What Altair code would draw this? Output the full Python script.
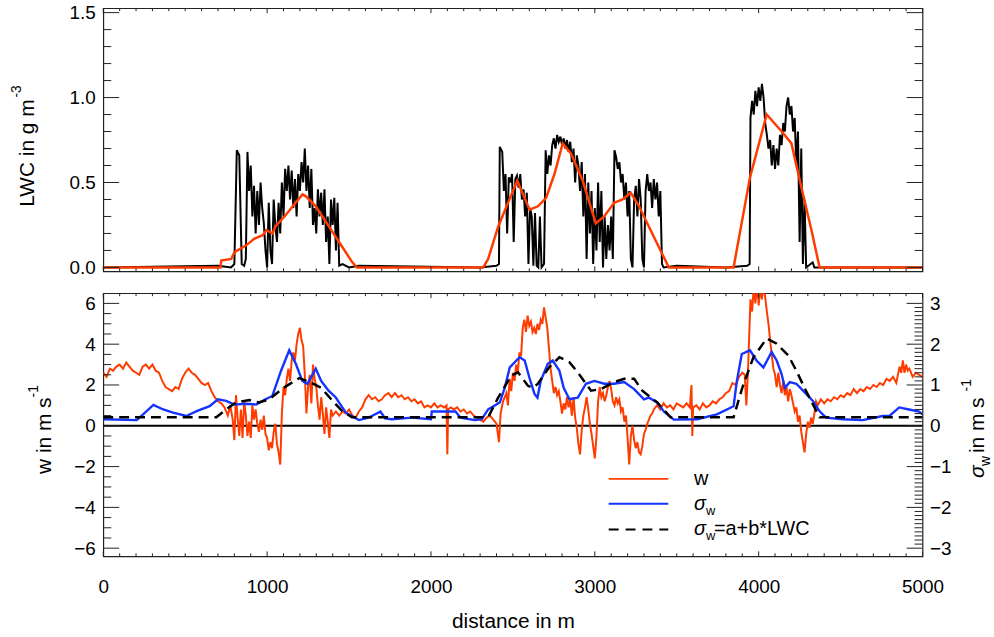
import altair as alt
import pandas as pd

# ---------------- data ----------------
# LWC (black, high resolution)
lwc_d = [0, 700, 780, 800, 815, 830, 845, 860, 870, 880, 890, 900, 910, 920, 930, 940, 950, 960, 970, 980,
         990, 1000, 1010, 1020, 1030, 1040, 1050, 1060, 1070, 1080, 1090, 1100, 1110, 1120, 1130, 1140, 1150,
         1160, 1170, 1180, 1190, 1200, 1210, 1220, 1230, 1240, 1250, 1260, 1270, 1280, 1290, 1300, 1310, 1320,
         1330, 1340, 1350, 1360, 1370, 1380, 1390, 1400, 1410, 1420, 1430, 1440, 1460, 1500, 1560,
         2300, 2400, 2415, 2420, 2435, 2445, 2455, 2465, 2475, 2485, 2495, 2505, 2515, 2525, 2535, 2545, 2555,
         2565, 2575, 2585, 2595, 2605, 2615, 2625, 2635, 2645, 2655, 2665, 2675, 2690, 2700, 2710, 2720, 2730,
         2740, 2750, 2760, 2770, 2780, 2790, 2800, 2810, 2820, 2830, 2840, 2850, 2860, 2870, 2880, 2890, 2900,
         2910, 2920, 2930, 2940, 2950, 2960, 2970, 2980, 2990, 3000, 3010, 3020, 3030, 3040, 3050, 3060, 3070,
         3080, 3090, 3100, 3110, 3120, 3130, 3140, 3150, 3160, 3170, 3180, 3190, 3200, 3210, 3220, 3230, 3240,
         3250, 3260, 3270, 3280, 3290, 3300, 3310, 3320, 3330, 3340, 3350, 3360, 3370, 3380, 3390, 3400, 3410,
         3420, 3500,
         3800, 3930, 3945, 3950, 3960, 3970, 3980, 3990, 4000, 4010, 4020, 4030, 4040, 4050, 4060, 4070, 4080,
         4090, 4100, 4110, 4120, 4130, 4140, 4150, 4160, 4170, 4180, 4190, 4200, 4210, 4220, 4230, 4240, 4250,
         4260, 4270, 4280, 4290, 4330, 4340, 5000]
lwc_v = [0.0, 0.01, 0.0, 0.02, 0.69, 0.66, 0.02, 0.01, 0.05, 0.68, 0.45, 0.6, 0.3, 0.48, 0.2, 0.45, 0.25, 0.5, 0.35, 0.26,
         0.1, 0.0, 0.38, 0.1, 0.02, 0.4, 0.25, 0.15, 0.38, 0.2, 0.5, 0.3, 0.58, 0.45, 0.6, 0.4, 0.57,
         0.35, 0.52, 0.3, 0.55, 0.45, 0.62, 0.5, 0.7, 0.45, 0.6, 0.35, 0.58, 0.25, 0.35, 0.2, 0.46, 0.3,
         0.44, 0.25, 0.46, 0.15, 0.3, 0.02, 0.4, 0.25, 0.41, 0.1, 0.38, 0.01, 0.02, 0.0, 0.01,
         0.0, 0.01, 0.02, 0.71, 0.68, 0.45, 0.55, 0.2, 0.53, 0.5, 0.55, 0.15, 0.52, 0.54, 0.47, 0.55, 0.4,
         0.46, 0.3, 0.44, 0.02, 0.35, 0.3, 0.01, 0.32, 0.01, 0.0, 0.3, 0.0, 0.02, 0.69, 0.55, 0.66, 0.6,
         0.72, 0.76, 0.7, 0.78, 0.74, 0.77, 0.72, 0.76, 0.7, 0.75, 0.68, 0.74, 0.62, 0.7, 0.5, 0.66, 0.6,
         0.45, 0.62, 0.3, 0.55, 0.05, 0.5, 0.2, 0.45, 0.02, 0.35, 0.1, 0.5, 0.15, 0.45, 0.0, 0.3, 0.05,
         0.25, 0.1, 0.3, 0.05, 0.69, 0.65, 0.58, 0.62, 0.5, 0.55, 0.4, 0.5, 0.3, 0.45, 0.05, 0.0, 0.4,
         0.48, 0.3, 0.52, 0.4, 0.05, 0.0, 0.45, 0.55, 0.45, 0.5, 0.35, 0.52, 0.4, 0.5, 0.3, 0.45, 0.02,
         0.0, 0.01,
         0.0, 0.01, 0.02, 0.88, 0.98, 0.9, 1.04, 0.95, 1.06, 0.98, 1.08, 1.0, 0.85, 0.78, 0.7, 0.75, 0.6,
         0.72, 0.58, 0.7, 0.6, 0.78, 0.72, 0.85, 0.8, 0.95, 1.0, 0.9, 0.95, 0.8, 0.88, 0.6, 0.8, 0.15,
         0.7, 0.02, 0.4, 0.0, 0.03, 0.0, 0.0]

# LWC smoothed (red)
lwcs_d = [0, 715, 720, 781, 801, 872, 923, 973, 996, 1033, 1050, 1115, 1165, 1216, 1235, 1297, 1378, 1459,
          1520, 1548, 2319, 2349, 2410, 2470, 2527, 2562, 2602, 2653, 2703, 2754, 2804, 2855, 2926, 3006,
          3057, 3118, 3169, 3219, 3270, 3340, 3401, 3452, 3847, 3947, 4049, 4150, 4200, 4261, 4322, 4372, 5000]
lwcs_v = [0, 0.0, 0.04, 0.05, 0.09, 0.13, 0.17, 0.19, 0.22, 0.2, 0.24, 0.31, 0.37, 0.43, 0.42, 0.36, 0.24, 0.12,
          0.03, 0.0, 0.0, 0.05, 0.24, 0.38, 0.51, 0.43, 0.34, 0.36, 0.41, 0.55, 0.73, 0.67, 0.51, 0.26,
          0.3, 0.38, 0.4, 0.44, 0.36, 0.22, 0.1, 0.0, 0.0, 0.53, 0.9, 0.79, 0.73, 0.47, 0.22, 0.0, 0.0]

# vertical velocity w (red)
w_d = [0, 20, 40, 60, 80, 100, 120, 140, 160, 180, 200, 220, 240, 260, 280, 300, 320, 340, 360, 380, 400,
       420, 440, 460, 480, 500, 520, 540, 560, 580, 600, 620, 640, 660, 680, 700, 720, 740, 760, 775, 790,
       800, 810, 820, 830, 840, 850, 860, 870, 880, 890, 900, 910, 920, 930, 940, 950, 960, 970, 980, 990,
       1000, 1010, 1020, 1030, 1040, 1050, 1060, 1070, 1080, 1090, 1100, 1110, 1120, 1130, 1140, 1150, 1160,
       1170, 1180, 1190, 1200, 1210, 1220, 1230, 1240, 1250, 1260, 1270, 1280, 1290, 1300, 1310, 1320, 1330,
       1340, 1350, 1360, 1370, 1380, 1390, 1400, 1420, 1440, 1460, 1480, 1500, 1520, 1540, 1560, 1580, 1600,
       1620, 1640, 1660, 1680, 1700, 1720, 1740, 1760, 1780, 1800, 1820, 1840, 1860, 1880, 1900, 1920, 1940,
       1960, 1980, 2000, 2020, 2040, 2060, 2080, 2095, 2100, 2105, 2120, 2140, 2160, 2180, 2200, 2220, 2240,
       2260, 2280, 2300, 2320, 2340, 2360, 2380, 2400, 2415, 2425, 2440, 2460, 2470, 2480, 2490, 2500, 2510,
       2520, 2530, 2540, 2550, 2560, 2570, 2580, 2590, 2600, 2610, 2620, 2630, 2640, 2650, 2660, 2670, 2680,
       2690, 2700, 2710, 2720, 2730, 2740, 2750, 2760, 2770, 2780, 2790, 2800, 2810, 2820, 2830, 2840, 2850,
       2860, 2870, 2880, 2890, 2900, 2910, 2920, 2930, 2940, 2950, 2960, 2970, 2980, 2990, 3000, 3010, 3020,
       3030, 3040, 3050, 3060, 3070, 3080, 3090, 3100, 3110, 3120, 3130, 3140, 3150, 3160, 3170, 3180, 3190,
       3200, 3210, 3220, 3230, 3240, 3250, 3260, 3270, 3280, 3290, 3300, 3310, 3320, 3330, 3340, 3350, 3360,
       3380, 3400, 3420, 3440, 3460, 3480, 3500, 3520, 3540, 3560, 3580, 3590, 3595, 3600, 3620, 3640, 3660,
       3680, 3700, 3720, 3740, 3760, 3780, 3800, 3820, 3840, 3860, 3880, 3900, 3915, 3925, 3935, 3950, 3960,
       3970, 3980, 3990, 4000, 4010, 4020, 4030, 4040, 4050, 4060, 4070, 4080, 4090, 4100, 4110, 4120, 4130,
       4140, 4150, 4160, 4170, 4180, 4190, 4200, 4210, 4220, 4230, 4240, 4250, 4260, 4270, 4280, 4290, 4300,
       4310, 4320, 4330, 4340, 4350, 4360, 4380, 4400, 4420, 4440, 4460, 4480, 4500, 4520, 4540, 4560, 4580,
       4600, 4620, 4640, 4660, 4680, 4700, 4720, 4740, 4760, 4780, 4800, 4820, 4840, 4860, 4870, 4880, 4890,
       4900, 4910, 4920, 4940, 4960, 4980, 5000]
w_v = [2.6, 2.4, 2.8, 2.7, 2.9, 3.0, 2.8, 3.1, 2.9, 2.7, 2.6, 2.5, 2.9, 3.0, 2.8, 3.0, 2.7, 2.6, 2.2, 1.9, 1.8,
       1.7, 1.9, 1.8, 2.3, 2.6, 2.8, 2.6, 2.5, 2.3, 2.1, 2.0, 2.1, 1.7, 1.4, 1.2, 1.1, 0.9, 0.5, 1.0, 0.3,
       -0.7, 1.5, 0.4, -0.5, 0.8, -0.6, 1.2, 0.5, -0.5, 0.2, -0.6, 1.0, 0.3, 0.8, 0.1, -0.3, 0.3, -0.2, 0.5, -0.4,
       -0.6, -1.2, -0.8, -1.1, -0.3, 0.1, -0.9, -1.3, -1.9, 0.6, 1.9, 1.5, 2.3, 2.8, 2.2, 3.2, 3.6,
       3.2, 4.0, 4.5, 4.8, 4.2, 3.9, 2.5, 0.6, 1.9, 2.5, 1.1, 3.0, 2.3, 1.9, 1.0, 0.3, 1.4,
       0.6, -0.4, 0.9, 0.2, -0.6, 0.8, 0.5, 0.7, 0.5, 0.7, 0.6, 0.8, 0.5, 0.4, 0.7, 0.9, 1.3,
       1.5, 1.3, 1.4, 1.2, 1.3, 1.5, 1.6, 1.4, 1.6, 1.4, 1.5, 1.3, 1.4, 1.2, 1.3, 1.1, 1.2,
       0.9, 1.0, 0.9, 1.1, 0.9, 1.0, 0.9, 1.0, -1.4, 0.8, 0.9, 0.8, 0.9, 0.7, 0.8, 0.6, 0.7,
       0.5, 0.4, 0.3, 0.2, 0.4, 0.5, 0.3, 0.1, -0.8, 0.6, 1.2, 1.6, 1.0, 2.3, 1.7, 2.6, 2.2,
       3.0, 2.6, 3.6, 3.4, 4.8, 5.2, 4.6, 5.4, 4.9, 5.1, 4.6, 4.8, 4.5, 5.0, 4.7, 5.2, 5.0,
       5.8, 5.3, 4.8, 3.8, 2.8, 2.2, 1.6, 1.9, 1.5, 1.7, 1.2, 0.6, 1.1, 0.8, 1.4, 0.9, 1.3,
       0.5, 1.4, 0.4, -0.1, -0.9, -1.4, -0.2, 0.5, 0.9, 1.4, 0.8, 0.1, -0.4, -1.0, -1.6, -0.5, 1.2,
       1.9, 1.4, 1.6, 1.2, 1.5, 1.9, 2.2, 1.8, 1.2, 1.0, 1.4, 1.1, 1.3, 0.7, 0.9, 0.2, 0.5,
       -0.6, -1.9, -0.5, 0.0, -0.7, -1.1, -0.8, -1.3, -1.4, -1.0, -0.4, -0.2, 0.1, 0.3, 0.5, 0.6, 0.8,
       1.0, 0.8, 1.1, 0.9, 1.0, 0.8, 1.1, 1.0, 0.9, 1.1, 0.9, 2.0, -0.5, 0.9, 1.0, 0.8, 1.1,
       0.9, 1.0, 1.2, 1.1, 1.3, 1.4, 1.6, 1.7, 2.1, 2.0, 2.4, 2.6, 2.5, 1.0, 2.7, 6.2, 5.6,
       6.8, 6.0, 7.0, 5.9, 6.8, 6.2, 7.0, 6.3, 5.6, 5.0, 4.2, 3.5, 2.8, 2.5, 1.9, 2.6, 2.0,
       1.6, 2.2, 1.5, 1.9, 1.2, 1.8, 1.5, 1.1, 0.7, 0.9, 0.2, 0.5, -0.3, -0.8, -1.3, -0.4, 0.2,
       -0.1, 0.4, 0.1, 0.6, 1.2, 1.0, 1.3, 1.1, 1.3, 1.2, 1.4, 1.3, 1.5, 1.4, 1.6, 1.5, 1.8,
       1.6, 1.8, 1.7, 1.9, 1.8, 2.0, 1.9, 2.1, 2.0, 2.3, 2.2, 2.4, 2.1, 2.9, 2.6, 3.2, 2.6,
       3.0, 2.7, 2.8, 2.4, 2.6, 2.5, 2.4]

# sigma_w (blue)
sig_d = [0, 204, 243, 306, 366, 426, 507, 570, 649, 700, 750, 800, 870, 933, 990, 1032, 1085, 1135, 1175,
         1215, 1246, 1297, 1330, 1375, 1418, 1480, 1560, 1620, 1692, 1720, 1760, 1883, 2000, 2005, 2150, 2180,
         2268, 2310, 2349, 2420, 2450, 2481, 2541, 2572, 2600, 2632, 2650, 2670, 2713, 2743, 2784, 2810, 2845,
         2896, 2946, 2997, 3058, 3118, 3179, 3240, 3300, 3330, 3381, 3421, 3482, 3624, 3745, 3847, 3867, 3897,
         3947, 3987, 4029, 4079, 4110, 4140, 4160, 4190, 4230, 4271, 4331, 4371, 4411, 4514, 4635, 4757, 4798,
         4858, 4918, 4979, 5000]
sig_v = [0.16, 0.14, 0.28, 0.51, 0.4, 0.32, 0.24, 0.36, 0.48, 0.65, 0.61, 0.52, 0.54, 0.52, 0.65, 0.73, 1.35,
         1.85, 1.52, 1.1, 1.03, 1.4, 1.1, 0.86, 0.7, 0.32, 0.14, 0.2, 0.35, 0.18, 0.16, 0.2, 0.16, 0.35, 0.35,
         0.2, 0.14, 0.16, 0.4, 0.57, 0.93, 1.43, 1.68, 1.6, 1.19, 0.78, 0.69, 1.1, 1.52, 1.6, 1.35, 0.93, 0.65,
         0.69, 1.03, 1.1, 1.03, 1.03, 1.07, 0.9, 0.65, 0.69, 0.57, 0.35, 0.15, 0.16, 0.28, 0.48, 1.1, 1.76,
         1.85, 1.6, 1.43, 1.81, 1.6, 1.27, 0.93, 1.07, 1.03, 0.86, 0.61, 0.36, 0.2, 0.16, 0.14, 0.24, 0.24,
         0.45, 0.4, 0.35, 0.28]

# sigma_w = a + b*LWC (dashed)
fit_d = [0, 690, 750, 810, 892, 950, 1014, 1100, 1196, 1260, 1330, 1400, 1458, 1518, 2349, 2410, 2490, 2531,
         2592, 2622, 2653, 2720, 2784, 2845, 2896, 2977, 3037, 3118, 3179, 3240, 3290, 3381, 3462, 3847, 3900,
         3968, 4049, 4110, 4180, 4230, 4280, 4320, 4372, 5000]
fit_v = [0.21, 0.21, 0.4, 0.57, 0.63, 0.57, 0.65, 0.93, 1.17, 1.07, 0.93, 0.61, 0.36, 0.21, 0.21, 0.69, 1.23,
         1.31, 0.98, 0.93, 1.03, 1.43, 1.68, 1.56, 1.31, 0.86, 0.9, 1.07, 1.15, 1.15, 0.86, 0.57, 0.21, 0.21,
         0.93, 1.68, 2.14, 2.01, 1.73, 1.35, 0.93, 0.61, 0.21, 0.21]

# axis ticks / labels
x_major = [0, 1000, 2000, 3000, 4000, 5000]
x_minor = [v for v in range(100, 5000, 100) if v % 1000]
lwc_major = [0.0, 0.5, 1.0, 1.5]
lwc_minor = [round(i * 0.1, 1) for i in range(1, 15) if i % 5]
w_major = [-6, -4, -2, 0, 2, 4, 6]
w_minor = [i * 0.5 for i in range(-12, 13) if i % 4]
sig_major = [-3, -2, -1, 0, 1, 2, 3]
sig_minor = [round(i * 0.1, 1) for i in range(-30, 31) if i % 10]

legend_labels = ["w", "\u03c3", "w", "\u03c3", "w", "=a+b*LWC"]
x_title = "distance in m"

# ---------------- styling ----------------
FONT = "Liberation Sans"
RED = "#ff3c00"
BLUE = "#1433ff"
FRAME = "#222222"
W, H1, H2 = 825, 265, 265

xscale = alt.Scale(domain=[0, 5000], nice=False, zero=False)
lwc_scale = alt.Scale(domain=[-0.023, 1.526], nice=False, zero=False)
w_scale = alt.Scale(domain=[-6.4, 6.5], nice=False, zero=False)
sig_scale = alt.Scale(domain=[-3.2, 3.25], nice=False, zero=False)

x_axis_b = alt.Axis(values=x_major, format="d", title=x_title, labelPadding=21, titlePadding=15,
                    labelFlush=False, labelFontSize=19, titleFontSize=21)
lwc_axis = alt.Axis(values=lwc_major, format=".1f", title=None, labelPadding=8, orient="left", labelFontSize=19)
w_axis = alt.Axis(values=w_major, format="d", title=None, labelPadding=8, orient="left", labelFontSize=19)
sig_axis = alt.Axis(values=sig_major, format="d", title=None, labelPadding=7, orient="right", labelFontSize=19)


def line(d, v, yscale, yaxis, xaxis, **kw):
    df = pd.DataFrame({"d": d, "v": v})
    return alt.Chart(df).mark_line(clip=True, **kw).encode(
        x=alt.X("d:Q", scale=xscale, axis=xaxis),
        y=alt.Y("v:Q", scale=yscale, axis=yaxis))


def yticks(vals, yscale, yaxis, x0, x1):
    return alt.Chart(pd.DataFrame({"v": vals})).mark_rule(color=FRAME, strokeWidth=1).encode(
        y=alt.Y("v:Q", scale=yscale, axis=yaxis), x=alt.value(x0), x2=alt.value(x1))


def xticks(vals, xaxis, y0, y1):
    return alt.Chart(pd.DataFrame({"d": vals})).mark_rule(color=FRAME, strokeWidth=1).encode(
        x=alt.X("d:Q", scale=xscale, axis=xaxis), y=alt.value(y0), y2=alt.value(y1))


def txt(s, x, y, size, angle=0, style="normal", baseline="alphabetic"):
    return alt.Chart(pd.DataFrame({"s": [s]})).mark_text(
        font=FONT, fontSize=size, angle=angle, fontStyle=style, align="left",
        baseline=baseline, color="black").encode(text="s:N", x=alt.value(x), y=alt.value(y))


def hrule(x0, x1, y, color, dash=None):
    kw = dict(color=color, strokeWidth=2)
    if dash:
        kw["strokeDash"] = dash
    return alt.Chart(pd.DataFrame({"k": [0]})).mark_rule(**kw).encode(
        x=alt.value(x0), x2=alt.value(x1), y=alt.value(y))


# ---------------- top panel ----------------
top = alt.layer(
    line(lwc_d, lwc_v, lwc_scale, lwc_axis, None, color="black", strokeWidth=2),
    line(lwcs_d, lwcs_v, lwc_scale, lwc_axis, None, color=RED, strokeWidth=2.5),
    yticks(lwc_major, lwc_scale, lwc_axis, 0, 16),
    yticks(lwc_minor, lwc_scale, lwc_axis, 0, 8),
    yticks(lwc_major, lwc_scale, lwc_axis, W - 16, W),
    yticks(lwc_minor, lwc_scale, lwc_axis, W - 8, W),
    xticks(x_major, None, 0, 5),
    xticks(x_minor, None, 0, 3),
    xticks(x_major, None, H1 - 5, H1),
    xticks(x_minor, None, H1 - 3, H1),
    txt("LWC in g m", -70, 200, 21, angle=270),
    txt("-3", -83, 90, 14, angle=270),
).properties(width=W, height=H1)

# ---------------- bottom panel ----------------
zero = alt.Chart(pd.DataFrame({"z": [0]})).mark_rule(color="black", strokeWidth=2).encode(
    y=alt.Y("z:Q", scale=w_scale, axis=w_axis))

left_group = alt.layer(
    zero,
    line(w_d, w_v, w_scale, w_axis, x_axis_b, color=RED, strokeWidth=2),
    yticks(w_major, w_scale, w_axis, 0, 16),
    yticks(w_minor, w_scale, w_axis, 0, 8),
    xticks(x_major, x_axis_b, 0, 5),
    xticks(x_minor, x_axis_b, 0, 3),
    xticks(x_major, x_axis_b, H2 - 5, H2),
    xticks(x_minor, x_axis_b, H2 - 3, H2),
    hrule(509, 569, 187, RED),
    hrule(509, 569, 212, BLUE),
    hrule(509, 569, 238, "black", [10, 7]),
    txt(legend_labels[0], 595, 187, 20, baseline="middle"),
    txt(legend_labels[1], 595, 212, 20, style="italic", baseline="middle"),
    txt(legend_labels[2], 607, 219, 13, baseline="middle"),
    txt(legend_labels[3], 595, 238, 20, style="italic", baseline="middle"),
    txt(legend_labels[4], 607, 245, 13, baseline="middle"),
    txt(legend_labels[5], 615, 238, 20, baseline="middle"),
    txt("w in m s", -53, 182, 21, angle=270),
    txt("-1", -66, 105, 14, angle=270),
    txt("\u03c3", 887, 186, 21, angle=270, style="italic"),
    txt("w", 893, 174, 14, angle=270),
    txt(" in m s", 887, 161, 21, angle=270),
    txt("-1", 874, 99, 14, angle=270),
)

right_group = alt.layer(
    line(sig_d, sig_v, sig_scale, sig_axis, x_axis_b, color=BLUE, strokeWidth=2.4),
    line(fit_d, fit_v, sig_scale, sig_axis, x_axis_b, color="black", strokeWidth=2.5, strokeDash=[10, 6]),
    yticks(sig_major, sig_scale, sig_axis, W - 16, W),
    yticks(sig_minor, sig_scale, sig_axis, W - 8, W),
)

bottom = alt.layer(left_group, right_group).resolve_scale(y="independent").properties(width=W, height=H2)

chart = alt.vconcat(top, bottom, spacing=22, bounds="flush").properties(
    padding={"left": 9, "top": 0, "right": 0, "bottom": 5}
).configure_view(stroke=FRAME, strokeWidth=1.2).configure_axis(
    labelFont=FONT, titleFont=FONT, labelColor="black", titleColor="black", titleFontWeight="normal",
    grid=False, domain=False, ticks=False
)

chart.save("out.html", embed_options={"renderer": "svg", "actions": False})
